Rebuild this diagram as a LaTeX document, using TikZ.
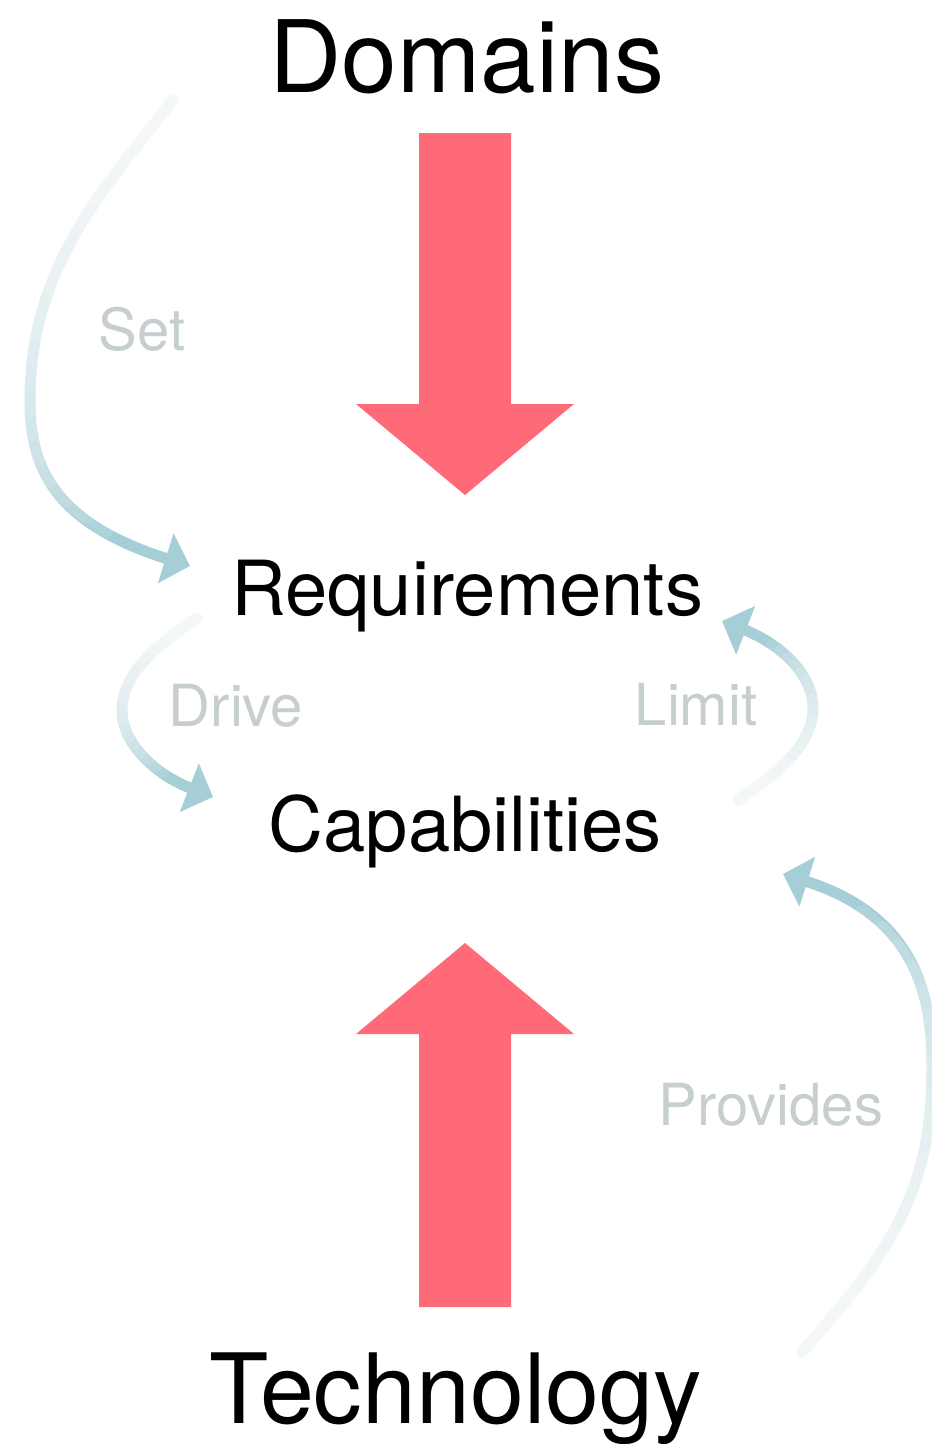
\documentclass[tikz,border=0pt]{standalone}
\usepackage{fontspec}
\setmainfont{TeX Gyre Heros}
\usetikzlibrary{arrows.meta}
\definecolor{bigred}{RGB}{255,106,120}
\definecolor{flowblue}{RGB}{165,206,214}
\definecolor{verbgrey}{RGB}{198,206,208}

\begin{document}
\begin{tikzpicture}[x=1pt,y=-1pt,
	title/.style={font=\fontsize{100}{110}\selectfont, anchor=base, inner sep=0pt},
	stage/.style={font=\fontsize{76}{84}\selectfont, anchor=base, inner sep=0pt},
	verb/.style={font=\fontsize{58}{64}\selectfont, text=verbgrey, anchor=base, inner sep=0pt},
	bigarrow/.style={fill=bigred},
	flow/.style={draw=flowblue, line width=11pt, line cap=round, -{Triangle[angle=90:36pt]}},
	fade/.style={draw=white, line width=14pt, line cap=round, opacity=0.12}]
	\useasboundingbox (0,0) rectangle (932,1444);
	% draw titles
	\node[title] (dom) at (467,92) {Domains};
	\node[title, font=\fontsize{97}{107}\selectfont] (tech) at (456,1423) {Technology};
	\node[stage] (req) at (467,615) {Requirements};
	\node[stage] (cap) at (465,851) {Capabilities};
	% big arrows
	\fill[bigarrow] (419,133) -- (511,133) -- (511,404) -- (574,404) -- (465,495) -- (356,404) -- (419,404) -- cycle;
	\fill[bigarrow] (419,1307) -- (511,1307) -- (511,1034) -- (574,1034) -- (465,943) -- (356,1034) -- (419,1034) -- cycle;
	% end points of the curved arrows
	\coordinate (setA) at (173,100);
	\coordinate (setM) at (30,400);
	\coordinate (setB) at (190,566);
	\coordinate (driveA) at (197,618);
	\coordinate (driveM) at (122,710);
	\coordinate (driveB) at (213,797);
	\coordinate (limitA) at (738,800);
	\coordinate (limitM) at (813,708);
	\coordinate (limitB) at (722,621);
	\coordinate (provA) at (802,1352);
	\coordinate (provM) at (932,1070);
	\coordinate (provB) at (783,874);
	% curved arrows
	\def\setpath{(setA) .. controls (99,194) and (30,270) .. (setM) .. controls (30,460) and (47,521) .. (setB)}
	\def\drivepath{(driveA) .. controls (164,641) and (122,670) .. (driveM) .. controls (122,745) and (157,775) .. (driveB)}
	\def\limitpath{(limitA) .. controls (771,777) and (813,748) .. (limitM) .. controls (813,673) and (778,643) .. (limitB)}
	\def\provpath{(provA) .. controls (881,1262) and (932,1200) .. (provM) .. controls (932,1010) and (925,919) .. (provB)}
	\draw[flow] \setpath;
	\draw[flow] \drivepath;
	\draw[flow] \limitpath;
	\draw[flow] \provpath;
	% fade the tails
	\foreach \k [evaluate=\k as \len using \k*25] in {1,...,20}
		\draw[fade, dash pattern=on \len pt off 3000pt] \setpath;
	\foreach \k [evaluate=\k as \len using \k*10] in {1,...,20}
		\draw[fade, dash pattern=on \len pt off 3000pt] \drivepath;
	\foreach \k [evaluate=\k as \len using \k*10] in {1,...,20}
		\draw[fade, dash pattern=on \len pt off 3000pt] \limitpath;
	\foreach \k [evaluate=\k as \len using \k*25] in {1,...,20}
		\draw[fade, dash pattern=on \len pt off 3000pt] \provpath;
	% labels
	\node[verb] (set) at (142,350) {Set};
	\node[verb] (drive) at (236,726) {Drive};
	\node[verb] (limit) at (696,725) {Limit};
	\node[verb] (provides) at (771,1125) {Provides};
\end{tikzpicture}
\end{document}
